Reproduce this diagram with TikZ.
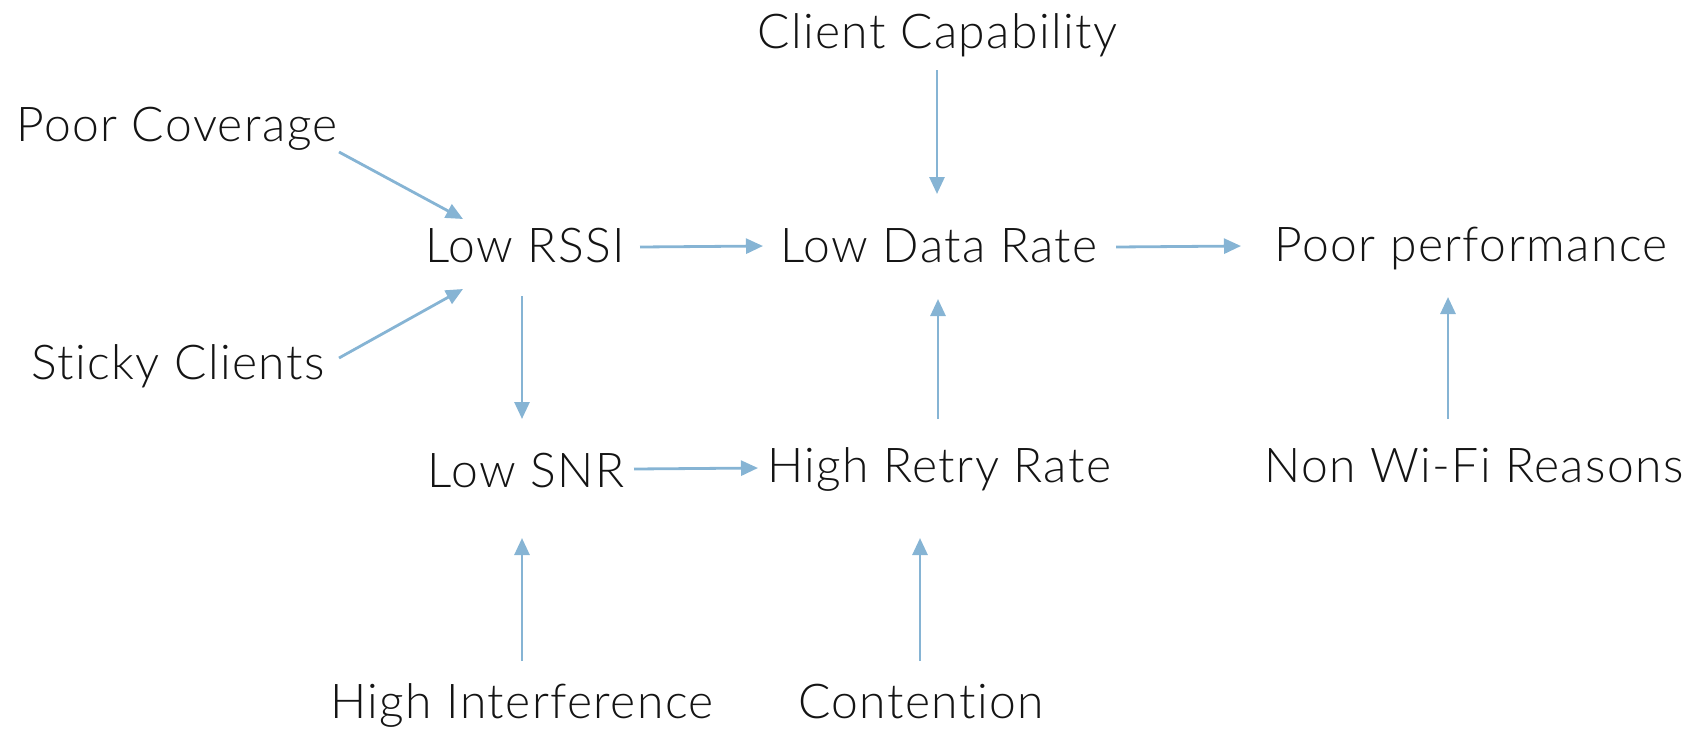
\documentclass[tikz,border=0pt]{standalone}
\usepackage{fontspec}
\setmainfont[LetterSpace=3,Ligatures={NoCommon}]{Lato Light}
\usetikzlibrary{arrows.meta}
\definecolor{arrowblue}{RGB}{134,180,212}
\definecolor{txt}{RGB}{20,20,20}
\tikzset{
  lbl/.style={anchor=base, inner sep=0pt, text=txt, font=\fontsize{48}{54}\selectfont},
  conn/.style={draw=arrowblue, line width=2.8pt, -{Triangle[length=17pt,width=15pt]}}
}
\begin{document}
\begin{tikzpicture}[x=1pt,y=-1pt]
\useasboundingbox (0,0) rectangle (1686,729);
\node[lbl] (cc) at (937.5,48) {Client Capability};
\node[lbl] (pc) at (177,141) {Poor Coverage};
\node[lbl] (rssi) at (525,262) {Low RSSI};
\node[lbl] (ldr) at (939,262) {Low Data Rate};
\node[lbl] (pp) at (1471,261) {Poor performance};
\node[lbl] (sc) at (178,379) {Sticky Clients};
\node[lbl] (snr) at (526,487) {Low SNR};
\node[lbl] (hrr) at (939,482) {High Retry Rate};
\node[lbl] (nw) at (1474,482) {Non Wi-Fi Reasons};
\node[lbl] (hi) at (522,718) {High Interference};
\node[lbl] (ct) at (921,718) {Contention};
% connector end points
\coordinate (cc1) at (937,70);   \coordinate (cc2) at (937,194);
\coordinate (pc1) at (339,152);  \coordinate (pc2) at (463,219);
\coordinate (sc1) at (339,358);  \coordinate (sc2) at (463,289);
\coordinate (r1) at (640,247);   \coordinate (r2) at (763,246);
\coordinate (d1) at (1116,247);  \coordinate (d2) at (1241,246);
\coordinate (rd1) at (522,296);  \coordinate (rd2) at (522,419);
\coordinate (s1) at (634,469);   \coordinate (s2) at (758,468);
\coordinate (h1) at (938,419);   \coordinate (h2) at (938,299);
\coordinate (n1) at (1448,419);  \coordinate (n2) at (1448,297);
\coordinate (i1) at (522,661);   \coordinate (i2) at (522,538);
\coordinate (c1) at (920,661);   \coordinate (c2) at (920,538);
\draw[conn] (cc1) -- (cc2);
\draw[conn] (pc1) -- (pc2);
\draw[conn] (sc1) -- (sc2);
\draw[conn] (r1) -- (r2);
\draw[conn] (d1) -- (d2);
\draw[conn] (rd1) -- (rd2);
\draw[conn] (s1) -- (s2);
\draw[conn] (h1) -- (h2);
\draw[conn] (n1) -- (n2);
\draw[conn] (i1) -- (i2);
\draw[conn] (c1) -- (c2);
\end{tikzpicture}
\end{document}
